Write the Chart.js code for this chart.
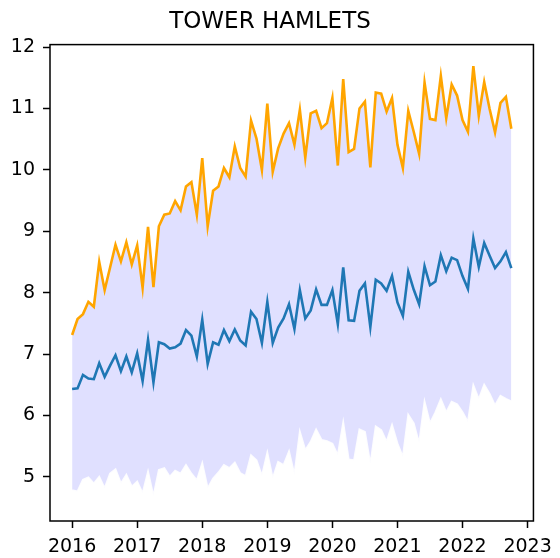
<!DOCTYPE html>
<html>
<head>
<meta charset="utf-8">
<script src="https://cdn.jsdelivr.net/npm/chart.js@4/dist/chart.umd.min.js"></script>
<style>
  html, body { margin: 0; padding: 0; background: #fff; }
</style>
</head>
<body>
<canvas id="chart" width="560" height="558"></canvas>
<script>
// monthly observations, Jan 2016 - Oct 2022
const months = [
  '2016-01','2016-02','2016-03','2016-04','2016-05','2016-06','2016-07','2016-08','2016-09','2016-10','2016-11','2016-12',
  '2017-01','2017-02','2017-03','2017-04','2017-05','2017-06','2017-07','2017-08','2017-09','2017-10','2017-11','2017-12',
  '2018-01','2018-02','2018-03','2018-04','2018-05','2018-06','2018-07','2018-08','2018-09','2018-10','2018-11','2018-12',
  '2019-01','2019-02','2019-03','2019-04','2019-05','2019-06','2019-07','2019-08','2019-09','2019-10','2019-11','2019-12',
  '2020-01','2020-02','2020-03','2020-04','2020-05','2020-06','2020-07','2020-08','2020-09','2020-10','2020-11','2020-12',
  '2021-01','2021-02','2021-03','2021-04','2021-05','2021-06','2021-07','2021-08','2021-09','2021-10','2021-11','2021-12',
  '2022-01','2022-02','2022-03','2022-04','2022-05','2022-06','2022-07','2022-08','2022-09','2022-10'
];

const upper = [
  7.31, 7.57, 7.65, 7.85, 7.77, 8.50, 8.04, 8.41, 8.78, 8.51, 8.82, 8.46,
  8.77, 8.08, 9.07, 8.09, 9.08, 9.27, 9.29, 9.49, 9.34, 9.73, 9.80, 9.27,
  10.19, 9.08, 9.66, 9.73, 10.03, 9.88, 10.38, 10.03, 9.89, 10.80, 10.51, 10.00,
  11.08, 9.97, 10.35, 10.59, 10.76, 10.41, 10.98, 10.20, 10.92, 10.96, 10.68, 10.76,
  11.17, 10.07, 11.48, 10.29, 10.34, 11.00, 11.11, 10.04, 11.26, 11.24, 10.95, 11.17,
  10.41, 10.03, 10.96, 10.62, 10.26, 11.42, 10.83, 10.81, 11.53, 10.84, 11.39, 11.21,
  10.81, 10.62, 11.69, 10.88, 11.43, 10.99, 10.61, 11.09, 11.19, 10.67
];

const mean = [
  6.43, 6.44, 6.66, 6.60, 6.59, 6.85, 6.63, 6.81, 6.98, 6.72, 6.96, 6.70,
  7.01, 6.56, 7.23, 6.54, 7.19, 7.16, 7.09, 7.11, 7.17, 7.39, 7.30, 6.96,
  7.56, 6.84, 7.19, 7.15, 7.39, 7.21, 7.40, 7.22, 7.14, 7.69, 7.57, 7.18,
  7.85, 7.18, 7.43, 7.58, 7.81, 7.41, 8.04, 7.58, 7.71, 8.05, 7.80, 7.80,
  8.04, 7.49, 8.41, 7.55, 7.54, 8.03, 8.15, 7.44, 8.21, 8.15, 8.03, 8.27,
  7.84, 7.62, 8.34, 8.05, 7.81, 8.43, 8.12, 8.18, 8.61, 8.35, 8.57, 8.53,
  8.27, 8.06, 8.88, 8.42, 8.81, 8.60, 8.40, 8.51, 8.66, 8.40
];

const lower = [
  4.78, 4.76, 4.95, 4.99, 4.89, 5.00, 4.81, 5.05, 5.12, 4.89, 5.03, 4.84,
  4.92, 4.73, 5.08, 4.68, 5.11, 5.14, 5.00, 5.10, 5.05, 5.19, 5.05, 4.94,
  5.22, 4.81, 4.97, 5.07, 5.19, 5.14, 5.23, 5.06, 5.01, 5.35, 5.27, 5.01,
  5.39, 4.97, 5.24, 5.19, 5.41, 5.03, 5.73, 5.43, 5.57, 5.77, 5.60, 5.58,
  5.54, 5.35, 5.88, 5.28, 5.27, 5.77, 5.73, 5.20, 5.82, 5.76, 5.57, 5.84,
  5.54, 5.32, 6.01, 5.87, 5.54, 6.22, 5.87, 6.05, 6.26, 6.05, 6.22, 6.18,
  6.05, 5.89, 6.49, 6.26, 6.50, 6.35, 6.16, 6.32, 6.27, 6.23
];

const xTickLabels = ['2016', '2017', '2018', '2019', '2020', '2021', '2022', '2023'];
const yTickLabels = ['5', '6', '7', '8', '9', '10', '11', '12'];

// 'YYYY-MM' -> decimal year
const toYear = m => +m.slice(0, 4) + (+m.slice(5, 7) - 1) / 12;
const pts = arr => arr.map((v, i) => ({ x: toYear(months[i]), y: v }));

Chart.defaults.font.family = 'DejaVu Sans';
Chart.defaults.font.size = 19;
Chart.defaults.color = '#000';

// matplotlib-like box around the axes
const frame = {
  id: 'frame',
  afterDatasetsDraw(chart) {
    const { ctx, chartArea: a } = chart;
    ctx.save();
    ctx.strokeStyle = '#000';
    ctx.lineWidth = 1.5;
    ctx.strokeRect(a.left, a.top, a.right - a.left, a.bottom - a.top);
    ctx.restore();
  }
};

const ctx = document.getElementById('chart').getContext('2d');
new Chart(ctx, {
  type: 'line',
  data: {
    datasets: [
      {
        label: 'upper',
        data: pts(upper),
        borderColor: '#ffa500',
        borderWidth: 2.6,
        fill: { target: 2, above: 'rgb(224,224,255)', below: 'rgb(224,224,255)' }
      },
      {
        label: 'mean',
        data: pts(mean),
        borderColor: '#1f77b4',
        borderWidth: 2.6,
        fill: false
      },
      {
        label: 'lower',
        data: pts(lower),
        borderColor: 'rgba(255,255,255,0.9)',
        borderWidth: 2,
        fill: false
      }
    ]
  },
  plugins: [frame],
  options: {
    responsive: false,
    devicePixelRatio: 1,
    animation: false,
    layout: { padding: { left: 0, right: 20, top: 0, bottom: 0 } },
    elements: { point: { radius: 0 }, line: { tension: 0 } },
    plugins: {
      legend: { display: false },
      tooltip: { enabled: false },
      filler: { drawTime: 'beforeDatasetsDraw' },
      title: {
        display: true,
        text: 'TOWER HAMLETS',
        font: { size: 23, weight: 'normal' },
        color: '#000',
        padding: { top: 8, bottom: 9 }
      }
    },
    scales: {
      x: {
        type: 'linear',
        min: 2015.66,
        max: 2023.09,
        afterFit: s => { s.height = 37; },
        afterBuildTicks: s => { s.ticks = xTickLabels.map(t => ({ value: +t })); },
        ticks: { padding: 8, callback: v => String(v), maxRotation: 0 },
        grid: { drawOnChartArea: false, tickLength: 7, tickColor: '#000', tickWidth: 1.5 },
        border: { display: false }
      },
      y: {
        min: 4.28,
        max: 12.04,
        afterFit: s => { s.width = 50; },
        afterBuildTicks: s => { s.ticks = yTickLabels.map(t => ({ value: +t })); },
        ticks: { padding: 8, callback: v => String(v) },
        grid: { drawOnChartArea: false, tickLength: 7, tickColor: '#000', tickWidth: 1.5 },
        border: { display: false }
      }
    }
  }
});
</script>
</body>
</html>
